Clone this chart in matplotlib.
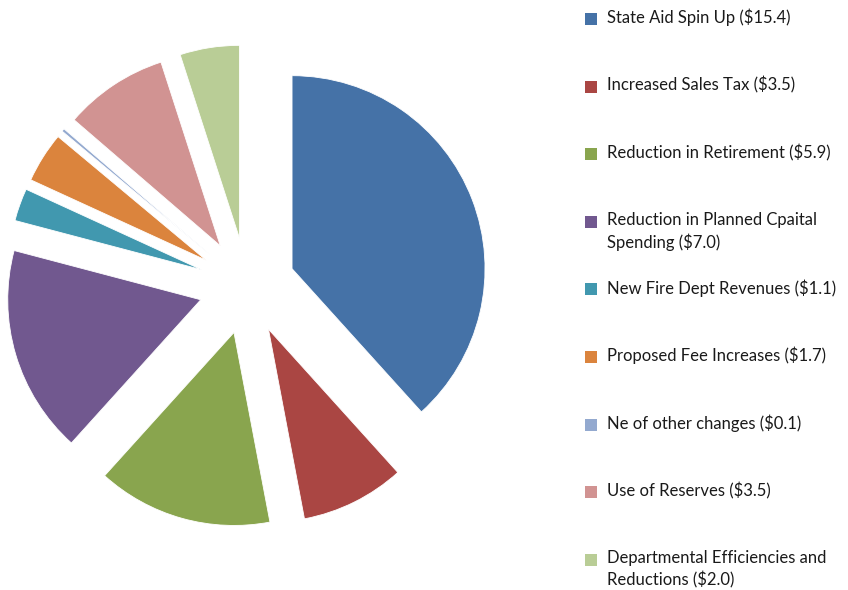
import matplotlib.pyplot as plt
from matplotlib.patches import Rectangle

# budget gap solutions, $ millions
labels = [
    "State Aid Spin Up ($15.4)",
    "Increased Sales Tax ($3.5)",
    "Reduction in Retirement ($5.9)",
    "Reduction in Planned Cpaital\nSpending ($7.0)",
    "New Fire Dept Revenues ($1.1)",
    "Proposed Fee Increases ($1.7)",
    "Ne of other changes ($0.1)",
    "Use of Reserves ($3.5)",
    "Departmental Efficiencies and\nReductions ($2.0)",
]
values = [15.4, 3.5, 5.9, 7.0, 1.1, 1.7, 0.1, 3.5, 2.0]
colors = ["#4572A7", "#AA4643", "#89A54E", "#71588F", "#4198AF",
          "#DB843D", "#93A9CF", "#D19392", "#B9CD96"]

W, H = 848, 590
fig = plt.figure(figsize=(W / 100, H / 100), dpi=100)
ax = fig.add_axes([0, 0, 1, 1])

# pie centre and radius in pixels
cx, cy, r = 247, 286, 193
ax.pie(values, colors=colors, startangle=90, counterclock=False,
       explode=[0.25] * len(values), radius=1.0,
       wedgeprops=dict(linewidth=0.6, edgecolor="white"))
ax.set_xlim(-cx / r, (W - cx) / r)
ax.set_ylim(-(H - cy) / r, cy / r)
ax.set_aspect("equal")
ax.axis("off")

# legend drawn by hand so the rows keep an even step
top, step = 19, 67.6
for i, (lab, col) in enumerate(zip(labels, colors)):
    y = top + i * step
    fig.patches.append(Rectangle((585 / W, 1 - (y + 6) / H), 12 / W, 12 / H,
                                 transform=fig.transFigure, facecolor=col,
                                 edgecolor="none"))
    fig.text(607 / W, 1 - (y - 10) / H, lab, fontsize=12, family="Lato",
             color="#1a1a1a", va="top", ha="left", linespacing=1.4)

fig.savefig("out.png", dpi=100)
